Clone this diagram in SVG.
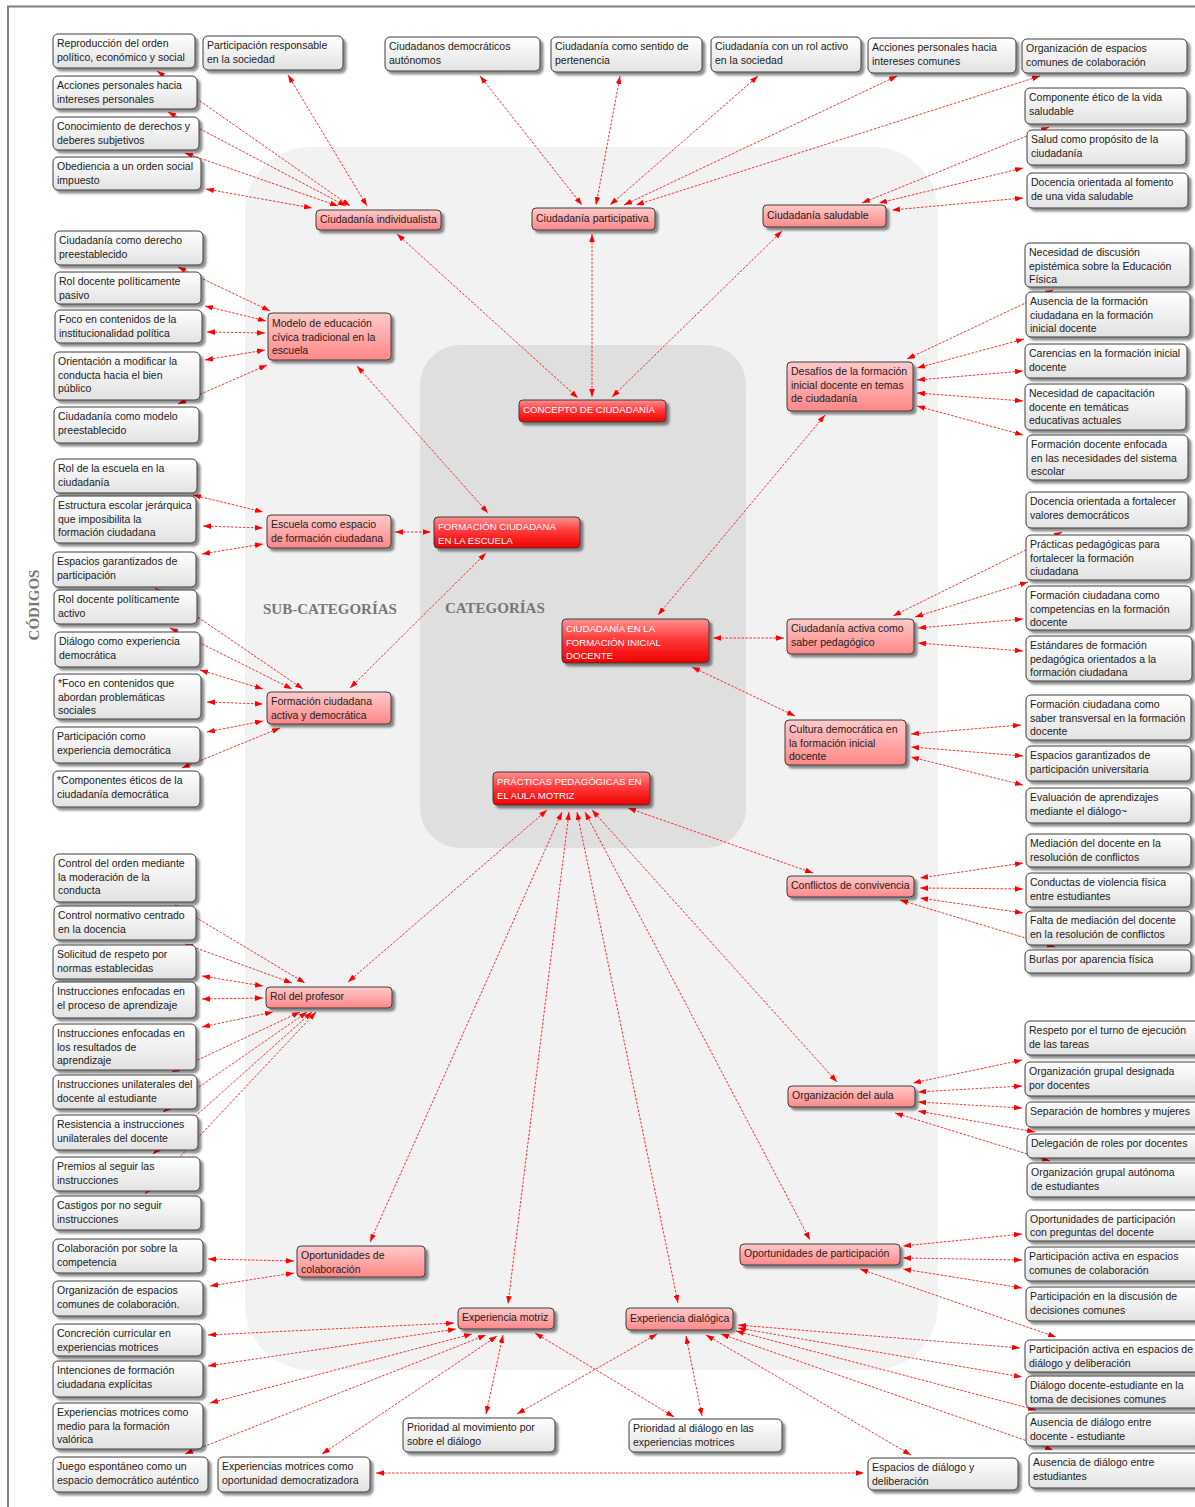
<svg xmlns="http://www.w3.org/2000/svg" width="1195" height="1507" viewBox="0 0 1195 1507">
<defs>
<linearGradient id="gc" x1="0" y1="0" x2="0" y2="1"><stop offset="0" stop-color="#ffffff"/><stop offset="1" stop-color="#e2e2e2"/></linearGradient>
<linearGradient id="gs" x1="0" y1="0" x2="0" y2="1"><stop offset="0" stop-color="#ffcaca"/><stop offset="1" stop-color="#ff8787"/></linearGradient>
<linearGradient id="gk" x1="0" y1="0" x2="0" y2="1"><stop offset="0" stop-color="#ff9090"/><stop offset="0.45" stop-color="#ff3a3a"/><stop offset="1" stop-color="#f00000"/></linearGradient>
<filter id="sh" x="-10%" y="-20%" width="130%" height="160%"><feDropShadow dx="3" dy="3" stdDeviation="0.8" flood-color="#000" flood-opacity="0.45"/></filter>
<marker id="a" viewBox="0 0 10 7" refX="10" refY="3.5" markerWidth="8" markerHeight="5.6" markerUnits="userSpaceOnUse" orient="auto-start-reverse"><path d="M0,0 L10,3.5 L0,7 z" fill="#ff0000"/></marker>
</defs>
<style>
.c rect{fill:url(#gc);stroke:#3c3c3c;stroke-width:1;filter:url(#sh)}
.s rect{fill:url(#gs);stroke:#3c3c3c;stroke-width:1;filter:url(#sh)}
.k rect{fill:url(#gk);stroke:#3c3c3c;stroke-width:1;filter:url(#sh)}
text{font-family:"Liberation Sans",Arial,sans-serif;font-size:10.5px;fill:#222}
.k text{fill:#ffffff;font-size:9.6px}
.lab{font-family:"Liberation Serif","Times New Roman",serif;font-size:15px;font-weight:bold;fill:#777}
#links line{stroke:#ff1a1a;stroke-width:0.9;stroke-dasharray:2.5 1.5;marker-start:url(#a);marker-end:url(#a)}
</style>
<rect width="1195" height="1507" fill="#ffffff"/>
<path d="M8,1507 V6.5 H1195" fill="none" stroke="#808080" stroke-width="2"/>
<rect x="245" y="147" width="693" height="1223" rx="65" fill="#f2f2f2"/>
<rect x="420" y="345" width="326" height="503" rx="40" fill="#dfdfdf"/>
<text class="lab" transform="translate(39,605) rotate(-90)" text-anchor="middle">CÓDIGOS</text>
<text class="lab" x="263" y="614">SUB-CATEGORÍAS</text>
<text class="lab" x="445" y="613">CATEGORÍAS</text>

<g id="links">
<line x1="157" y1="71" x2="350" y2="206"/>
<line x1="168" y1="112" x2="346" y2="206"/>
<line x1="185" y1="153" x2="338" y2="206"/>
<line x1="206" y1="189" x2="312" y2="208"/>
<line x1="288" y1="75" x2="367" y2="206"/>
<line x1="397" y1="234" x2="578" y2="398"/>
<line x1="480" y1="76" x2="582" y2="205"/>
<line x1="620" y1="76" x2="596" y2="205"/>
<line x1="758" y1="76" x2="610" y2="205"/>
<line x1="897" y1="76" x2="624" y2="205"/>
<line x1="1040" y1="76" x2="636" y2="205"/>
<line x1="592" y1="234" x2="592" y2="397"/>
<line x1="1049" y1="127" x2="862" y2="203"/>
<line x1="1023" y1="168" x2="879" y2="203"/>
<line x1="1023" y1="198" x2="892" y2="210"/>
<line x1="782" y1="231" x2="612" y2="397"/>
<line x1="178" y1="267" x2="270" y2="311"/>
<line x1="205" y1="306" x2="266" y2="321"/>
<line x1="207" y1="332" x2="265" y2="333"/>
<line x1="205" y1="360" x2="265" y2="350"/>
<line x1="178" y1="404" x2="267" y2="365"/>
<line x1="357" y1="366" x2="488" y2="513"/>
<line x1="193" y1="495" x2="263" y2="512"/>
<line x1="203" y1="526" x2="263" y2="528"/>
<line x1="202" y1="554" x2="263" y2="544"/>
<line x1="395" y1="532" x2="431" y2="532"/>
<line x1="155" y1="588" x2="303" y2="689"/>
<line x1="170" y1="628" x2="292" y2="689"/>
<line x1="200" y1="670" x2="263" y2="689"/>
<line x1="207" y1="702" x2="263" y2="704"/>
<line x1="207" y1="732" x2="263" y2="721"/>
<line x1="182" y1="768" x2="280" y2="728"/>
<line x1="350" y1="688" x2="486" y2="553"/>
<line x1="1053" y1="290" x2="907" y2="359"/>
<line x1="1024" y1="339" x2="917" y2="368"/>
<line x1="1023" y1="371" x2="917" y2="380"/>
<line x1="1023" y1="401" x2="917" y2="393"/>
<line x1="1023" y1="435" x2="917" y2="406"/>
<line x1="825" y1="415" x2="658" y2="615"/>
<line x1="1062" y1="532" x2="893" y2="616"/>
<line x1="1028" y1="582" x2="915" y2="617"/>
<line x1="1023" y1="619" x2="918" y2="628"/>
<line x1="1023" y1="651" x2="918" y2="643"/>
<line x1="784" y1="638" x2="713" y2="638"/>
<line x1="795" y1="716" x2="692" y2="667"/>
<line x1="1021" y1="725" x2="911" y2="734"/>
<line x1="1023" y1="756" x2="911" y2="747"/>
<line x1="1023" y1="785" x2="911" y2="757"/>
<line x1="813" y1="873" x2="628" y2="808"/>
<line x1="1023" y1="863" x2="920" y2="878"/>
<line x1="1023" y1="889" x2="920" y2="888"/>
<line x1="1023" y1="913" x2="920" y2="898"/>
<line x1="1055" y1="947" x2="900" y2="900"/>
<line x1="175" y1="905" x2="305" y2="983"/>
<line x1="185" y1="944" x2="292" y2="983"/>
<line x1="202" y1="976" x2="263" y2="986"/>
<line x1="202" y1="999" x2="263" y2="998"/>
<line x1="202" y1="1027" x2="273" y2="1012"/>
<line x1="172" y1="1072" x2="300" y2="1012"/>
<line x1="163" y1="1112" x2="307" y2="1012"/>
<line x1="153" y1="1154" x2="312" y2="1012"/>
<line x1="145" y1="1194" x2="316" y2="1012"/>
<line x1="348" y1="982" x2="547" y2="810"/>
<line x1="592" y1="810" x2="837" y2="1082"/>
<line x1="1022" y1="1060" x2="913" y2="1083"/>
<line x1="1022" y1="1086" x2="918" y2="1092"/>
<line x1="1022" y1="1108" x2="918" y2="1102"/>
<line x1="1035" y1="1132" x2="918" y2="1111"/>
<line x1="1050" y1="1161" x2="895" y2="1113"/>
<line x1="585" y1="812" x2="810" y2="1240"/>
<line x1="1022" y1="1234" x2="903" y2="1246"/>
<line x1="1022" y1="1260" x2="903" y2="1258"/>
<line x1="1022" y1="1288" x2="903" y2="1269"/>
<line x1="860" y1="1269" x2="1056" y2="1337"/>
<line x1="562" y1="812" x2="370" y2="1242"/>
<line x1="208" y1="1259" x2="294" y2="1261"/>
<line x1="210" y1="1286" x2="294" y2="1273"/>
<line x1="569" y1="812" x2="508" y2="1304"/>
<line x1="208" y1="1335" x2="454" y2="1323"/>
<line x1="208" y1="1366" x2="456" y2="1329"/>
<line x1="210" y1="1403" x2="472" y2="1334"/>
<line x1="185" y1="1454" x2="486" y2="1335"/>
<line x1="322" y1="1454" x2="497" y2="1336"/>
<line x1="486" y1="1414" x2="503" y2="1335"/>
<line x1="535" y1="1333" x2="674" y2="1417"/>
<line x1="577" y1="812" x2="678" y2="1303"/>
<line x1="657" y1="1334" x2="517" y2="1414"/>
<line x1="686" y1="1336" x2="702" y2="1416"/>
<line x1="706" y1="1335" x2="911" y2="1455"/>
<line x1="721" y1="1334" x2="1053" y2="1450"/>
<line x1="736" y1="1331" x2="1036" y2="1410"/>
<line x1="738" y1="1328" x2="1022" y2="1377"/>
<line x1="738" y1="1325" x2="1020" y2="1348"/>
<line x1="376" y1="1473" x2="864" y2="1473"/>
</g>

<g id="n1" class="c"><rect x="53" y="34" width="142" height="34" rx="5"/><text><tspan x="57" y="47">Reproducción del orden</tspan><tspan x="57" y="61">político, económico y social</tspan></text></g>
<g id="n2" class="c"><rect x="203" y="36" width="140" height="34" rx="5"/><text><tspan x="207" y="49">Participación responsable</tspan><tspan x="207" y="63">en la sociedad</tspan></text></g>
<g id="n3" class="c"><rect x="385" y="37" width="155" height="34" rx="5"/><text><tspan x="389" y="50">Ciudadanos democráticos</tspan><tspan x="389" y="64">autónomos</tspan></text></g>
<g id="n4" class="c"><rect x="551" y="37" width="151" height="35" rx="5"/><text><tspan x="555" y="50">Ciudadanía como sentido de</tspan><tspan x="555" y="64">pertenencia</tspan></text></g>
<g id="n5" class="c"><rect x="711" y="37" width="150" height="35" rx="5"/><text><tspan x="715" y="50">Ciudadanía con un rol activo</tspan><tspan x="715" y="64">en la sociedad</tspan></text></g>
<g id="n6" class="c"><rect x="868" y="38" width="148" height="35" rx="5"/><text><tspan x="872" y="51">Acciones personales hacia</tspan><tspan x="872" y="65">intereses comunes</tspan></text></g>
<g id="n7" class="c"><rect x="1022" y="39" width="165" height="34" rx="5"/><text><tspan x="1026" y="52">Organización de espacios</tspan><tspan x="1026" y="66">comunes de colaboración</tspan></text></g>
<g id="n8" class="c"><rect x="53" y="76" width="144" height="33" rx="5"/><text><tspan x="57" y="89">Acciones personales hacia</tspan><tspan x="57" y="103">intereses personales</tspan></text></g>
<g id="n9" class="c"><rect x="53" y="117" width="146" height="33" rx="5"/><text><tspan x="57" y="130">Conocimiento de derechos y</tspan><tspan x="57" y="144">deberes subjetivos</tspan></text></g>
<g id="n10" class="c"><rect x="53" y="157" width="148" height="33" rx="5"/><text><tspan x="57" y="170">Obediencia a un orden social</tspan><tspan x="57" y="184">impuesto</tspan></text></g>
<g id="n11" class="c"><rect x="1025" y="88" width="162" height="36" rx="5"/><text><tspan x="1029" y="101">Componente ético de la vida</tspan><tspan x="1029" y="115">saludable</tspan></text></g>
<g id="n12" class="c"><rect x="1027" y="130" width="159" height="35" rx="5"/><text><tspan x="1031" y="143">Salud como propósito de la</tspan><tspan x="1031" y="157">ciudadanía</tspan></text></g>
<g id="n13" class="c"><rect x="1027" y="173" width="161" height="35" rx="5"/><text><tspan x="1031" y="186">Docencia orientada al fomento</tspan><tspan x="1031" y="200">de una vida saludable</tspan></text></g>

<g id="s1" class="s"><rect x="316" y="210" width="125" height="20" rx="4"/><text x="320" y="223">Ciudadanía individualista</text></g>
<g id="s2" class="s"><rect x="532" y="208" width="123" height="22" rx="4"/><text x="536" y="222">Ciudadanía participativa</text></g>
<g id="s3" class="s"><rect x="763" y="205" width="123" height="22" rx="4"/><text x="767" y="219">Ciudadanía saludable</text></g>

<g id="n14" class="c"><rect x="55" y="231" width="148" height="34" rx="5"/><text><tspan x="59" y="244">Ciudadanía como derecho</tspan><tspan x="59" y="258">preestablecido</tspan></text></g>
<g id="n15" class="c"><rect x="55" y="272" width="146" height="32" rx="5"/><text><tspan x="59" y="285">Rol docente políticamente</tspan><tspan x="59" y="299">pasivo</tspan></text></g>
<g id="n16" class="c"><rect x="55" y="310" width="147" height="33" rx="5"/><text><tspan x="59" y="323">Foco en contenidos de la</tspan><tspan x="59" y="337">institucionalidad política</tspan></text></g>
<g id="n17" class="c"><rect x="54" y="352" width="146" height="48" rx="5"/><text><tspan x="58" y="365">Orientación a modificar la</tspan><tspan x="58" y="379">conducta hacia el bien</tspan><tspan x="58" y="392">público</tspan></text></g>
<g id="n18" class="c"><rect x="54" y="407" width="145" height="36" rx="5"/><text><tspan x="58" y="420">Ciudadanía como modelo</tspan><tspan x="58" y="434">preestablecido</tspan></text></g>
<g id="s4" class="s"><rect x="268" y="313" width="123" height="47" rx="4"/><text><tspan x="272" y="327">Modelo de educación</tspan><tspan x="272" y="341">cívica tradicional en la</tspan><tspan x="272" y="354">escuela</tspan></text></g>
<g id="k1" class="k"><rect x="519" y="400" width="147" height="22" rx="4"/><text x="523" y="413">CONCEPTO DE CIUDADANÍA</text></g>

<g id="n19" class="c"><rect x="1025" y="243" width="165" height="44" rx="5"/><text><tspan x="1029" y="256">Necesidad de discusión</tspan><tspan x="1029" y="270">epistémica sobre la Educación</tspan><tspan x="1029" y="283">Física</tspan></text></g>
<g id="n20" class="c"><rect x="1026" y="292" width="164" height="45" rx="5"/><text><tspan x="1030" y="305">Ausencia de la formación</tspan><tspan x="1030" y="319">ciudadana en la formación</tspan><tspan x="1030" y="332">inicial docente</tspan></text></g>
<g id="n21" class="c"><rect x="1025" y="344" width="162" height="34" rx="5"/><text><tspan x="1029" y="357">Carencias en la formación inicial</tspan><tspan x="1029" y="371">docente</tspan></text></g>
<g id="n22" class="c"><rect x="1025" y="384" width="161" height="46" rx="5"/><text><tspan x="1029" y="397">Necesidad de capacitación</tspan><tspan x="1029" y="411">docente en temáticas</tspan><tspan x="1029" y="424">educativas actuales</tspan></text></g>
<g id="n23" class="c"><rect x="1027" y="435" width="161" height="45" rx="5"/><text><tspan x="1031" y="448">Formación docente enfocada</tspan><tspan x="1031" y="462">en las necesidades del sistema</tspan><tspan x="1031" y="475">escolar</tspan></text></g>
<g id="s5" class="s"><rect x="787" y="362" width="126" height="49" rx="4"/><text><tspan x="791" y="375">Desafíos de la formación</tspan><tspan x="791" y="389">inicial docente en temas</tspan><tspan x="791" y="402">de ciudadanía</tspan></text></g>

<g id="n24" class="c"><rect x="54" y="459" width="143" height="34" rx="5"/><text><tspan x="58" y="472">Rol de la escuela en la</tspan><tspan x="58" y="486">ciudadanía</tspan></text></g>
<g id="n25" class="c"><rect x="54" y="496" width="142" height="47" rx="5"/><text><tspan x="58" y="509">Estructura escolar jerárquica</tspan><tspan x="58" y="523">que imposibilita la</tspan><tspan x="58" y="536">formación ciudadana</tspan></text></g>
<g id="n26" class="c"><rect x="53" y="552" width="143" height="35" rx="5"/><text><tspan x="57" y="565">Espacios garantizados de</tspan><tspan x="57" y="579">participación</tspan></text></g>
<g id="n27" class="c"><rect x="54" y="590" width="143" height="34" rx="5"/><text><tspan x="58" y="603">Rol docente políticamente</tspan><tspan x="58" y="617">activo</tspan></text></g>
<g id="n28" class="c"><rect x="55" y="632" width="145" height="35" rx="5"/><text><tspan x="59" y="645">Diálogo como experiencia</tspan><tspan x="59" y="659">democrática</tspan></text></g>
<g id="n29" class="c"><rect x="54" y="674" width="147" height="45" rx="5"/><text><tspan x="58" y="687">*Foco en contenidos que</tspan><tspan x="58" y="701">abordan problemáticas</tspan><tspan x="58" y="714">sociales</tspan></text></g>
<g id="n30" class="c"><rect x="53" y="727" width="147" height="36" rx="5"/><text><tspan x="57" y="740">Participación como</tspan><tspan x="57" y="754">experiencia democrática</tspan></text></g>
<g id="n31" class="c"><rect x="53" y="771" width="147" height="36" rx="5"/><text><tspan x="57" y="784">*Componentes éticos de la</tspan><tspan x="57" y="798">ciudadanía democrática</tspan></text></g>
<g id="s6" class="s"><rect x="267" y="515" width="124" height="33" rx="4"/><text><tspan x="271" y="528">Escuela como espacio</tspan><tspan x="271" y="542">de formación ciudadana</tspan></text></g>
<g id="k2" class="k"><rect x="434" y="517" width="146" height="31" rx="4"/><text><tspan x="438" y="530">FORMACIÓN CIUDADANA</tspan><tspan x="438" y="544">EN LA ESCUELA</tspan></text></g>
<g id="s7" class="s"><rect x="267" y="692" width="124" height="32" rx="4"/><text><tspan x="271" y="705">Formación ciudadana</tspan><tspan x="271" y="719">activa y democrática</tspan></text></g>

<g id="n32" class="c"><rect x="1026" y="492" width="162" height="36" rx="5"/><text><tspan x="1030" y="505">Docencia orientada a fortalecer</tspan><tspan x="1030" y="519">valores democráticos</tspan></text></g>
<g id="n33" class="c"><rect x="1026" y="535" width="165" height="45" rx="5"/><text><tspan x="1030" y="548">Prácticas pedagógicas para</tspan><tspan x="1030" y="562">fortalecer la formación</tspan><tspan x="1030" y="575">ciudadana</tspan></text></g>
<g id="n34" class="c"><rect x="1026" y="586" width="165" height="44" rx="5"/><text><tspan x="1030" y="599">Formación ciudadana como</tspan><tspan x="1030" y="613">competencias en la formación</tspan><tspan x="1030" y="626">docente</tspan></text></g>
<g id="n35" class="c"><rect x="1026" y="636" width="166" height="45" rx="5"/><text><tspan x="1030" y="649">Estándares de formación</tspan><tspan x="1030" y="663">pedagógica orientados a la</tspan><tspan x="1030" y="676">formación ciudadana</tspan></text></g>
<g id="s8" class="s"><rect x="787" y="619" width="127" height="35" rx="4"/><text><tspan x="791" y="632">Ciudadanía activa como</tspan><tspan x="791" y="646">saber pedagógico</tspan></text></g>
<g id="k3" class="k"><rect x="562" y="619" width="147" height="44" rx="4"/><text><tspan x="566" y="632">CIUDADANÍA EN LA</tspan><tspan x="566" y="646">FORMACIÓN INICIAL</tspan><tspan x="566" y="659">DOCENTE</tspan></text></g>

<g id="n36" class="c"><rect x="1026" y="695" width="165" height="45" rx="5"/><text><tspan x="1030" y="708">Formación ciudadana como</tspan><tspan x="1030" y="722">saber transversal en la formación</tspan><tspan x="1030" y="735">docente</tspan></text></g>
<g id="n37" class="c"><rect x="1026" y="746" width="165" height="35" rx="5"/><text><tspan x="1030" y="759">Espacios garantizados de</tspan><tspan x="1030" y="773">participación universitaria</tspan></text></g>
<g id="n38" class="c"><rect x="1026" y="788" width="165" height="35" rx="5"/><text><tspan x="1030" y="801">Evaluación de aprendizajes</tspan><tspan x="1030" y="815">mediante el diálogo~</tspan></text></g>
<g id="s9" class="s"><rect x="785" y="720" width="121" height="45" rx="4"/><text><tspan x="789" y="733">Cultura democrática en</tspan><tspan x="789" y="747">la formación inicial</tspan><tspan x="789" y="760">docente</tspan></text></g>
<g id="k4" class="k"><rect x="493" y="772" width="157" height="33" rx="4"/><text><tspan x="497" y="785">PRÁCTICAS PEDAGÓGICAS EN</tspan><tspan x="497" y="799">EL AULA MOTRIZ</tspan></text></g>

<g id="n39" class="c"><rect x="1026" y="834" width="165" height="33" rx="5"/><text><tspan x="1030" y="847">Mediación del docente en la</tspan><tspan x="1030" y="861">resolución de conflictos</tspan></text></g>
<g id="n40" class="c"><rect x="1026" y="873" width="165" height="34" rx="5"/><text><tspan x="1030" y="886">Conductas de violencia física</tspan><tspan x="1030" y="900">entre estudiantes</tspan></text></g>
<g id="n41" class="c"><rect x="1026" y="911" width="165" height="34" rx="5"/><text><tspan x="1030" y="924">Falta de mediación del docente</tspan><tspan x="1030" y="938">en la resolución de conflictos</tspan></text></g>
<g id="n42" class="c"><rect x="1025" y="950" width="166" height="23" rx="5"/><text x="1029" y="963">Burlas por aparencia física</text></g>
<g id="s10" class="s"><rect x="787" y="876" width="127" height="21" rx="4"/><text x="791" y="889">Conflictos de convivencia</text></g>

<g id="n43" class="c"><rect x="54" y="854" width="142" height="48" rx="5"/><text><tspan x="58" y="867">Control del orden mediante</tspan><tspan x="58" y="881">la moderación de la</tspan><tspan x="58" y="894">conducta</tspan></text></g>
<g id="n44" class="c"><rect x="54" y="906" width="142" height="34" rx="5"/><text><tspan x="58" y="919">Control normativo centrado</tspan><tspan x="58" y="933">en la docencia</tspan></text></g>
<g id="n45" class="c"><rect x="53" y="945" width="143" height="34" rx="5"/><text><tspan x="57" y="958">Solicitud de respeto por</tspan><tspan x="57" y="972">normas establecidas</tspan></text></g>
<g id="n46" class="c"><rect x="53" y="982" width="143" height="36" rx="5"/><text><tspan x="57" y="995">Instrucciones enfocadas en</tspan><tspan x="57" y="1009">el proceso de aprendizaje</tspan></text></g>
<g id="n47" class="c"><rect x="53" y="1024" width="143" height="46" rx="5"/><text><tspan x="57" y="1037">Instrucciones enfocadas en</tspan><tspan x="57" y="1051">los resultados de</tspan><tspan x="57" y="1064">aprendizaje</tspan></text></g>
<g id="n48" class="c"><rect x="53" y="1075" width="144" height="34" rx="5"/><text><tspan x="57" y="1088">Instrucciones unilaterales del</tspan><tspan x="57" y="1102">docente al estudiante</tspan></text></g>
<g id="n49" class="c"><rect x="53" y="1115" width="145" height="35" rx="5"/><text><tspan x="57" y="1128">Resistencia a instrucciones</tspan><tspan x="57" y="1142">unilaterales del docente</tspan></text></g>
<g id="n50" class="c"><rect x="53" y="1157" width="147" height="34" rx="5"/><text><tspan x="57" y="1170">Premios al seguir las</tspan><tspan x="57" y="1184">instrucciones</tspan></text></g>
<g id="n51" class="c"><rect x="53" y="1196" width="148" height="34" rx="5"/><text><tspan x="57" y="1209">Castigos por no seguir</tspan><tspan x="57" y="1223">instrucciones</tspan></text></g>
<g id="s11" class="s"><rect x="266" y="987" width="126" height="21" rx="4"/><text x="270" y="1000">Rol del profesor</text></g>

<g id="n52" class="c"><rect x="1025" y="1021" width="175" height="34" rx="5"/><text><tspan x="1029" y="1034">Respeto por el turno de ejecución</tspan><tspan x="1029" y="1048">de las tareas</tspan></text></g>
<g id="n53" class="c"><rect x="1025" y="1062" width="175" height="34" rx="5"/><text><tspan x="1029" y="1075">Organización grupal designada</tspan><tspan x="1029" y="1089">por docentes</tspan></text></g>
<g id="n54" class="c"><rect x="1026" y="1102" width="174" height="25" rx="5"/><text x="1030" y="1115">Separación de hombres y mujeres</text></g>
<g id="n55" class="c"><rect x="1027" y="1134" width="173" height="24" rx="5"/><text x="1031" y="1147">Delegación de roles por docentes</text></g>
<g id="n56" class="c"><rect x="1027" y="1163" width="173" height="34" rx="5"/><text><tspan x="1031" y="1176">Organización grupal autónoma</tspan><tspan x="1031" y="1190">de estudiantes</tspan></text></g>
<g id="s12" class="s"><rect x="788" y="1086" width="127" height="21" rx="4"/><text x="792" y="1099">Organización del aula</text></g>

<g id="n57" class="c"><rect x="1026" y="1210" width="174" height="31" rx="5"/><text><tspan x="1030" y="1223">Oportunidades de participación</tspan><tspan x="1030" y="1236">con preguntas del docente</tspan></text></g>
<g id="n58" class="c"><rect x="1025" y="1247" width="175" height="34" rx="5"/><text><tspan x="1029" y="1260">Participación activa en espacios</tspan><tspan x="1029" y="1274">comunes de colaboración</tspan></text></g>
<g id="n59" class="c"><rect x="1026" y="1287" width="174" height="34" rx="5"/><text><tspan x="1030" y="1300">Participación en la discusión de</tspan><tspan x="1030" y="1314">decisiones comunes</tspan></text></g>
<g id="s13" class="s"><rect x="740" y="1244" width="160" height="21" rx="4"/><text x="744" y="1257">Oportunidades de participación</text></g>

<g id="n60" class="c"><rect x="53" y="1239" width="150" height="34" rx="5"/><text><tspan x="57" y="1252">Colaboración por sobre la</tspan><tspan x="57" y="1266">competencia</tspan></text></g>
<g id="n61" class="c"><rect x="53" y="1281" width="150" height="35" rx="5"/><text><tspan x="57" y="1294">Organización de espacios</tspan><tspan x="57" y="1308">comunes de colaboración.</tspan></text></g>
<g id="s14" class="s"><rect x="297" y="1246" width="128" height="31" rx="4"/><text><tspan x="301" y="1259">Oportunidades de</tspan><tspan x="301" y="1273">colaboración</tspan></text></g>

<g id="n62" class="c"><rect x="53" y="1324" width="149" height="32" rx="5"/><text><tspan x="57" y="1337">Concreción curricular en</tspan><tspan x="57" y="1351">experiencias motrices</tspan></text></g>
<g id="n63" class="c"><rect x="53" y="1361" width="150" height="36" rx="5"/><text><tspan x="57" y="1374">Intenciones de formación</tspan><tspan x="57" y="1388">ciudadana explícitas</tspan></text></g>
<g id="n64" class="c"><rect x="53" y="1403" width="150" height="46" rx="5"/><text><tspan x="57" y="1416">Experiencias motrices como</tspan><tspan x="57" y="1430">medio para la formación</tspan><tspan x="57" y="1443">valórica</tspan></text></g>
<g id="n65" class="c"><rect x="53" y="1457" width="155" height="35" rx="5"/><text><tspan x="57" y="1470">Juego espontáneo como un</tspan><tspan x="57" y="1484">espacio democrático auténtico</tspan></text></g>
<g id="n66" class="c"><rect x="218" y="1457" width="152" height="35" rx="5"/><text><tspan x="222" y="1470">Experiencias motrices como</tspan><tspan x="222" y="1484">oportunidad democratizadora</tspan></text></g>
<g id="s15" class="s"><rect x="458" y="1308" width="96" height="21" rx="4"/><text x="462" y="1321">Experiencia motriz</text></g>
<g id="s16" class="s"><rect x="626" y="1308" width="107" height="22" rx="4"/><text x="630" y="1322">Experiencia dialógica</text></g>
<g id="n67" class="c"><rect x="403" y="1418" width="152" height="34" rx="5"/><text><tspan x="407" y="1431">Prioridad al movimiento por</tspan><tspan x="407" y="1445">sobre el diálogo</tspan></text></g>
<g id="n68" class="c"><rect x="629" y="1419" width="153" height="33" rx="5"/><text><tspan x="633" y="1432">Prioridad al diálogo en las</tspan><tspan x="633" y="1446">experiencias motrices</tspan></text></g>
<g id="n69" class="c"><rect x="868" y="1458" width="150" height="32" rx="5"/><text><tspan x="872" y="1471">Espacios de diálogo y</tspan><tspan x="872" y="1485">deliberación</tspan></text></g>

<g id="n70" class="c"><rect x="1025" y="1340" width="175" height="32" rx="5"/><text><tspan x="1029" y="1353">Participación activa en espacios de</tspan><tspan x="1029" y="1367">diálogo y deliberación</tspan></text></g>
<g id="n71" class="c"><rect x="1026" y="1376" width="174" height="32" rx="5"/><text><tspan x="1030" y="1389">Diálogo docente-estudiante en la</tspan><tspan x="1030" y="1403">toma de decisiones comunes</tspan></text></g>
<g id="n72" class="c"><rect x="1026" y="1413" width="174" height="33" rx="5"/><text><tspan x="1030" y="1426">Ausencia de diálogo entre</tspan><tspan x="1030" y="1440">docente - estudiante</tspan></text></g>
<g id="n73" class="c"><rect x="1029" y="1453" width="171" height="35" rx="5"/><text><tspan x="1033" y="1466">Ausencia de diálogo entre</tspan><tspan x="1033" y="1480">estudiantes</tspan></text></g>
</svg>
